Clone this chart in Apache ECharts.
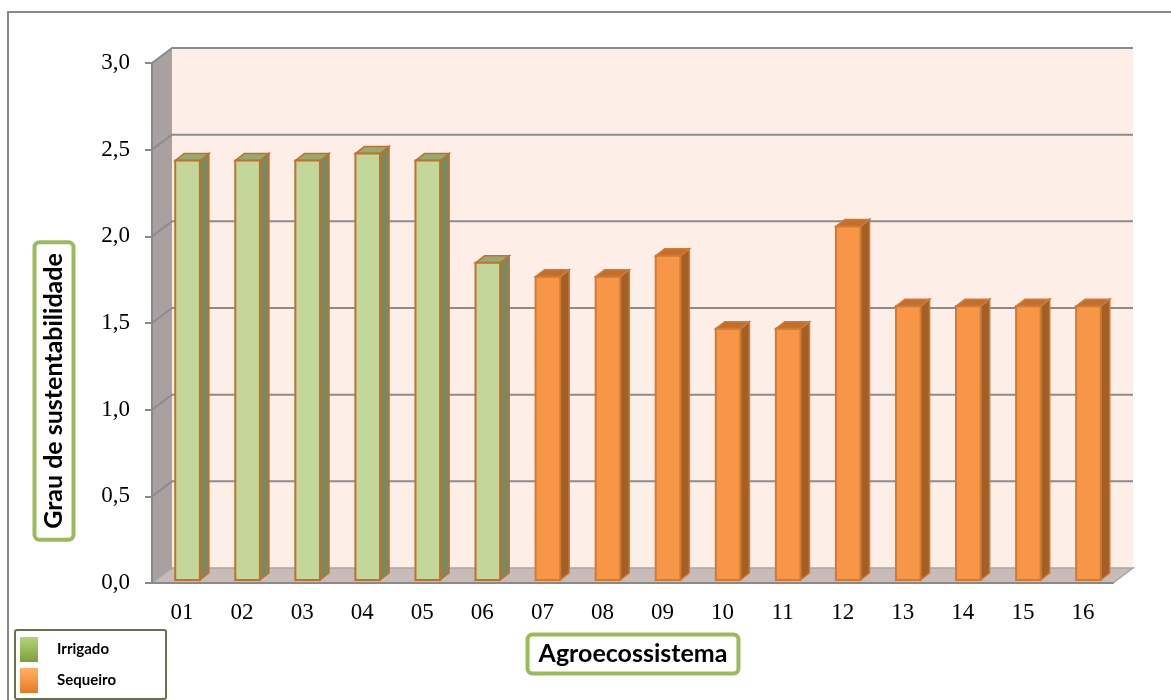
<!DOCTYPE html>
<html>
<head>
<meta charset="utf-8">
<title>Grau de sustentabilidade</title>
<script src="https://cdn.jsdelivr.net/npm/echarts@6/dist/echarts.min.js"></script>
<style>
  html, body { margin: 0; padding: 0; background: #fff; }
  #chart { width: 1171px; height: 700px; }
</style>
</head>
<body>
<div id="chart"></div>
<script>
// valores
const agroecossistemas = ['01', '02', '03', '04', '05', '06', '07', '08', '09', '10', '11', '12', '13', '14', '15', '16']
const irrigadoValores = [2.42, 2.42, 2.42, 2.46, 2.42, 1.83]
const sequeiroValores = [1.75, 1.75, 1.87, 1.45, 1.45, 2.04, 1.58, 1.58, 1.58, 1.58]
const yTicks = [0, 0.5, 1.0, 1.5, 2.0, 2.5, 3.0]

const irrigadoData = irrigadoValores.map((v, i) => [i, v])
const sequeiroData = sequeiroValores.map((v, i) => [i + irrigadoValores.length, v])

const coresIrrigado = { frente: '#C4D79B', topo: '#98AB6F', lado: '#7A8A5E', borda: '#C0702F' }
const coresSequeiro = { frente: '#F79646', topo: '#C26F2E', lado: '#A45F27', borda: '#D07A34' }

// barra "3D" desenhada a partir das coordenadas do eixo
function barra(cores) {
  return function (params, api) {
    const i = api.value(0)
    const v = api.value(1)
    const topo = api.coord([i, v])
    const base = api.coord([i, 0])
    const w = api.size([1, 0])[0] * 0.41
    const x0 = topo[0] - w / 2 + 5.5
    const y0 = topo[1] - 3
    const y1 = base[1] - 3
    const dx = 9, dy = -7
    return {
      type: 'group',
      children: [
        {
          type: 'polygon',
          shape: { points: [[x0 + w, y0], [x0 + w + dx, y0 + dy], [x0 + w + dx, y1 + dy], [x0 + w, y1]] },
          style: { fill: cores.lado, stroke: cores.borda, lineWidth: 1.5 }
        },
        {
          type: 'polygon',
          shape: { points: [[x0, y0], [x0 + dx, y0 + dy], [x0 + w + dx, y0 + dy], [x0 + w, y0]] },
          style: { fill: cores.topo, stroke: cores.borda, lineWidth: 1.5 }
        },
        {
          type: 'rect',
          shape: { x: x0, y: y0, width: w, height: y1 - y0 },
          style: { fill: cores.frente, stroke: cores.borda, lineWidth: 2 }
        }
      ]
    }
  }
}

// paredes, piso e linhas de grade em perspectiva
function moldura(params, api) {
  const cs = params.coordSys
  const x = cs.x, y = cs.y, w = cs.width, h = cs.height
  const dx = 20, dy = -15
  const children = [
    {
      type: 'rect',
      shape: { x: x + dx, y: y + dy, width: w, height: h },
      style: { fill: '#FDEEE8' }
    },
    {
      type: 'polygon',
      shape: { points: [[x, y], [x + dx, y + dy], [x + dx, y + h + dy], [x, y + h]] },
      style: { fill: '#A8A19F' }
    },
    {
      type: 'polygon',
      shape: { points: [[x, y + h], [x + dx, y + h + dy], [x + w + dx, y + h + dy], [x + w, y + h]] },
      style: { fill: '#C9BBB8', stroke: '#A6A6A6', lineWidth: 1.5 }
    }
  ]
  yTicks.forEach(t => {
    if (t === 0) return
    const py = api.coord([0, t])[1]
    children.push({
      type: 'polyline',
      shape: { points: [[x, py], [x + dx, py + dy], [x + w + dx, py + dy]] },
      style: { fill: null, stroke: '#8C8C8C', lineWidth: 2 }
    })
  })
  return { type: 'group', children }
}

const gradVerde = new echarts.graphic.LinearGradient(0, 0, 0, 1, [
  { offset: 0, color: '#B5D17A' }, { offset: 0.5, color: '#9BBB59' }, { offset: 1, color: '#7E9D3F' }
])
const gradLaranja = new echarts.graphic.LinearGradient(0, 0, 0, 1, [
  { offset: 0, color: '#FDB067' }, { offset: 0.5, color: '#F79646' }, { offset: 1, color: '#E07A25' }
])

const chart = echarts.init(document.getElementById('chart'))
const option = {
  animation: false,
  backgroundColor: '#fff',
  grid: { left: 152, right: 58, top: 63, bottom: 117, containLabel: false },
  legend: {
    orient: 'vertical',
    left: 15,
    top: 630,
    data: ['Irrigado', 'Sequeiro'],
    icon: 'rect',
    itemWidth: 18,
    itemHeight: 25,
    itemGap: 6,
    backgroundColor: '#fff',
    borderColor: '#68704C',
    borderWidth: 2,
    borderRadius: 2,
    padding: [7, 50, 6, 5],
    textStyle: {
      fontFamily: 'Lato',
      fontWeight: 'bold',
      fontSize: 15,
      color: '#000',
      padding: [0, 0, 0, 14]
    }
  },
  xAxis: {
    type: 'category',
    data: agroecossistemas,
    axisLine: { lineStyle: { color: '#898989', width: 2 } },
    axisTick: { length: 8, lineStyle: { color: '#898989', width: 2 } },
    axisLabel: { fontFamily: 'Liberation Serif', fontSize: 23, color: '#000', margin: 18 }
  },
  yAxis: {
    type: 'value',
    min: 0,
    max: 3,
    interval: 0.5,
    splitLine: { show: false },
    axisLine: { show: true, lineStyle: { color: '#898989', width: 2 } },
    axisTick: { show: true, length: 7, lineStyle: { color: '#898989', width: 2 } },
    axisLabel: {
      fontFamily: 'Liberation Serif',
      fontSize: 23,
      color: '#000',
      margin: 22,
      formatter: v => v.toFixed(1).replace('.', ',')
    }
  },
  graphic: [
    {
      type: 'rect',
      shape: { x: 8, y: 12, width: 1300, height: 800 },
      style: { fill: null, stroke: '#878787', lineWidth: 2 },
      silent: true
    },
    {
      type: 'text',
      x: 54,
      y: 391,
      rotation: Math.PI / 2,
      style: {
        text: 'Grau de sustentabilidade',
        font: 'bold 25px Lato',
        fill: '#000',
        align: 'center',
        verticalAlign: 'middle',
        backgroundColor: '#fff',
        borderColor: '#9BBB59',
        borderWidth: 4,
        borderRadius: 3,
        padding: [6, 9, 4, 9]
      }
    },
    {
      type: 'text',
      x: 633,
      y: 654,
      style: {
        text: 'Agroecossistema',
        font: 'bold 25px Lato',
        fill: '#000',
        align: 'center',
        verticalAlign: 'middle',
        backgroundColor: '#fff',
        borderColor: '#9BBB59',
        borderWidth: 4,
        borderRadius: 3,
        padding: [6, 9, 4, 9]
      }
    }
  ],
  series: [
    {
      name: 'moldura',
      type: 'custom',
      z: -1,
      silent: true,
      data: [[0, 0]],
      renderItem: moldura
    },
    {
      name: 'Irrigado',
      type: 'custom',
      z: 2,
      itemStyle: { color: gradVerde },
      data: irrigadoData,
      renderItem: barra(coresIrrigado)
    },
    {
      name: 'Sequeiro',
      type: 'custom',
      z: 2,
      itemStyle: { color: gradLaranja },
      data: sequeiroData,
      renderItem: barra(coresSequeiro)
    }
  ]
}
chart.setOption(option)
</script>
</body>
</html>
